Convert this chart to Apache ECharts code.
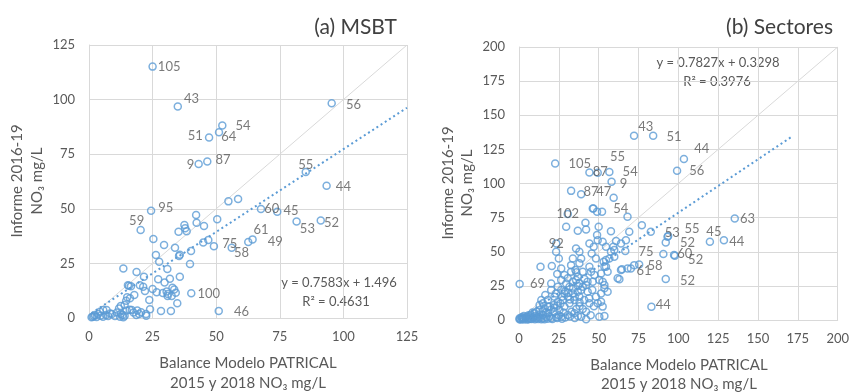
<!DOCTYPE html>
<html>
<head>
<meta charset="utf-8">
<script src="https://cdn.jsdelivr.net/npm/echarts@6/dist/echarts.min.js"></script>
<style>html,body{margin:0;padding:0;background:#fff}#c{width:852px;height:392px}</style>
</head>
<body>
<div id="c"></div>
<script>
// ---------- DATA ----------
// (a) MSBT — labelled points
const msbtLabels = ['105','43','56','54','64','51','87','9','55','44','95','59','60','45','53','52','75','58','61','49','100','46'];
const msbtLabX = [25.0,34.9,95.4,52.4,51.1,47.2,46.5,43.1,85.2,93.4,24.4,20.3,67.6,74.0,81.6,91.1,49.1,56.1,62.6,64.3,40.2,51.0];
const msbtLabY = [115.1,96.8,98.3,88.1,85.0,82.7,71.7,70.5,66.8,60.6,49.1,40.3,49.9,48.7,44.2,44.6,32.9,32.2,34.8,36.0,11.3,3.2];
// (a) MSBT — other points
const msbtX = [54.8,58.6,42.1,42.3,37.5,37.8,45.2,50.4,35.2,38.4,25.3,29.5,33.8,35.4,35.7,26.3,27.6,40.1,44.9,46.9,39.7,35.7,30.8,13.5,18.7,21.6,27.2,31.8,29.7,15.7,21.3,25.0,32.8,22.0,26.6,30.5,34.1,30.9,32.5,17.8,16.1,14.6,23.7,34.7,11.8,14.8,16.8,19.0,22.4,28.3,32.2,19.7,1.4,2.3,3.6,4.3,5.6,6.9,6.7,8.3,10.2,12.2,13.5,13.2,18.6,22.5,1.0,2.0,3.0,4.5,5.5,7.5,9.0,11.0,12.5,14.0,16.0,17.5,20.5,24.0,15.3,16.5,15.0,14.0,12.5,20.0,31.0,33.5,29.0];
const msbtY = [53.4,54.5,47.2,43.6,42.6,41.1,42.1,45.2,39.5,39.7,36.2,33.4,32.2,28.4,29.0,28.8,25.8,30.7,34.6,35.7,24.7,18.9,22.4,22.7,21.1,18.9,17.7,18.0,16.2,14.8,14.3,13.3,13.9,12.4,11.8,12.1,11.6,10.1,10.1,10.5,9.0,7.9,8.2,6.7,4.4,3.4,3.7,3.4,1.8,3.2,3.2,1.8,0.6,1.4,1.8,2.9,3.7,3.7,1.4,2.1,0.9,0.6,0.3,1.4,1.4,1.0,0.3,0.8,0.5,1.0,0.6,0.9,1.8,2.5,2.0,1.0,3.8,2.5,2.6,4.0,15.0,14.5,9.5,6.0,5.5,15.0,11.0,13.0,11.5];
const msbtTrend = {slope:0.7583, intercept:1.496, xFrom:1, xTo:125, r2:0.4631};

// (b) Sectores — labelled points
const sectLabels = ['43','51','44','56','105','87','55','54','9','87','47','102','92','69','54','63','53','55','52','45','44','60','52','75','58','61','52','44'];
const sectLabX = [72.2,84.2,103.5,99.2,22.7,44.2,49.4,56.7,58.1,39.0,59.4,30.6,23.4,0.4,52.1,135.4,93.2,93.6,92.1,119.8,128.6,97.3,97.8,66.7,75.4,72.3,92.1,83.1];
const sectLabY = [134.9,134.9,118.0,109.3,114.6,108.1,107.8,108.5,101.2,92.2,89.5,77.6,56.1,26.3,79.3,74.4,61.0,61.5,56.8,57.3,58.5,47.6,47.0,50.5,40.7,40.2,30.0,9.7];
// (b) Sectores — other points
const sectX = [13.5,20.6,23.3,25.0,29.6,36.9,41.7,42.1,46.7,49.0,57.7,68.1,35.8,37.9,39.0,37.9,35.4,32.7,30.6,26.5,24.0,24.4,20.2,16.5,14.0,12.9,18.1,22.3,28.5,31.7,33.8,36.9,40.0,44.2,45.2,47.3,46.3,42.1,39.0,37.9,34.8,31.7,28.5,25.4,22.3,18.1,15.0,11.9,8.8,5.6,2.5,0.4,0.3,4.6,7.3,9.8,12.9,16.1,19.2,21.9,24.4,27.5,30.6,33.8,36.9,40.0,43.1,41.0,44.2,42.1,39.0,42.1,34.8,30.6,26.5,23.3,20.2,17.1,50.4,53.6,48.3,51.5,49.4,52.5,55.6,53.6,50.4,51.5,54.6,53.1,56.7,59.8,64.0,67.1,59.8,64.0,63.0,68.1,45.6,48.3,46.9,44.2,49.4,52.5,54.6,49.0,33.8,32.7,28.5,26.5,35.8,18.1,15.0,23.3,26.5,29.6,20.2,69.2,82.7,77.1,90.6,64.6,61.9,60.9,59.2,57.7,54.6,53.6,55.6,52.5,53.6,51.5,70.2,32.7,46.3,50.0,1.0,2.0,3.0,4.0,6.0,7.0,8.0,9.0,10.0,11.0,12.0,13.0,14.0,15.0,16.0,18.0,19.0,21.0,24.0,25.0,27.0,28.0,29.0,32.0,33.0,35.0,36.0,37.0,38.0,10.0,6.0,3.0,2.0,1.5,5.0,7.0,8.5,11.0,13.0,15.0,17.0,20.0,22.0,24.0,26.0,27.0,29.0,31.0,32.0,34.0,35.0,37.0,38.0,36.0,41.0,43.0,44.0,46.0,47.0,45.0,40.0,38.0];
const sectY = [39.0,39.5,50.0,45.1,68.3,65.4,71.2,66.3,81.7,79.3,65.1,75.6,52.4,50.0,45.1,41.5,36.6,35.4,30.5,29.3,33.7,24.4,22.0,18.3,14.6,11.0,14.6,17.1,19.5,24.4,28.1,31.7,35.4,39.0,35.4,32.9,28.1,25.6,22.0,17.1,14.6,12.2,9.8,7.3,6.1,4.9,3.7,2.4,2.0,1.2,1.2,1.2,0.5,2.4,3.7,4.9,7.3,8.5,9.8,11.0,13.4,14.6,17.1,19.5,20.7,24.4,20.7,14.6,12.2,6.1,2.4,0.5,4.9,3.7,2.4,2.0,1.2,2.0,2.4,3.0,17.1,13.4,12.2,9.8,20.7,25.6,29.3,34.1,39.0,42.7,45.1,51.2,56.1,58.5,46.3,36.6,29.8,37.8,48.8,45.1,53.7,56.1,58.5,57.3,53.7,62.2,45.1,40.2,32.9,37.8,29.3,9.8,12.2,19.5,22.0,26.8,26.8,64.6,64.6,69.5,48.3,37.1,30.5,57.8,53.6,50.0,43.9,39.0,35.3,28.0,23.2,19.5,37.8,94.6,81.7,68.3,0.3,0.8,0.4,1.5,0.5,1.0,0.7,1.5,0.6,1.2,0.8,1.7,0.5,1.2,0.6,1.0,2.5,0.7,1.5,3.5,1.0,5.5,1.8,2.5,6.0,1.5,8.0,3.0,10.0,3.0,3.5,3.0,2.0,1.8,0.4,2.3,5.5,6.0,4.0,6.5,5.5,7.5,9.0,10.5,12.0,17.0,21.0,20.0,15.0,23.0,17.0,25.0,27.0,35.0,30.0,28.0,16.0,22.0,10.0,3.5,8.0,13.0];
const sectTrend = {slope:0.7827, intercept:0.3298, xFrom:0, xTo:172, r2:0.3976};

const ticksA = [0,25,50,75,100,125];
const ticksB = [0,25,50,75,100,125,150,175,200];

// ---------- STYLE (label placement: [position, dx, dy]) ----------
const msbtLabelPos = [
 ['right',-1,0],['right',0,-8],['right',8,1],['right',7,0],['right',-4,4],['left',0,-2],['right',2,-2],['left',2,1],
 ['top',0,5],['right',3,1],['right',1,-3],['top',-4,4],['right',-3,0],['right',0,-1],['right',-3,7],['right',-3,2],
 ['right',2,-2],['right',-4,5],['right',-1,-12],['right',9,2],['right',0,0],['right',9,1]
];
const sectLabelPos = [
 ['right',-2,-9],['right',7,1],['right',4,-10],['right',6,0],['right',7,0],['right',-3,-1],['right',6,-16],['right',7,0],
 ['right',2,2],['right',-4,-2],['left',4,-6],['inside',0,0],['inside',0,0],['right',4,0],['right',5,-3],['right',-1,0],
 ['right',-9,-4],['right',10,-7],['right',8,0],['top',4,3],['right',-1,2],['right',-3,-1],['right',7,4],['right',7,1],
 ['right',2,1],['right',-4,6],['right',8,2],['right',-2,-2]
];

const FONT = 'Lato, "Open Sans", sans-serif';
const TXT = '#595959';
const BLUE = '#5B9BD5';
const GRID = '#d9d9d9';

function labelled(xs, ys, names, pos) {
  return xs.map((x, i) => ({
    value: [x, ys[i]],
    label: { show: true, formatter: names[i], position: pos[i][0], distance: 2, offset: [pos[i][1], pos[i][2]],
             color: TXT, fontSize: 13, fontFamily: FONT }
  }));
}
function plain(xs, ys) { return xs.map((x, i) => [x, ys[i]]); }
function trendLine(t) { return [[t.xFrom, t.slope*t.xFrom + t.intercept], [t.xTo, t.slope*t.xTo + t.intercept]]; }

const pointStyle = { color: 'rgba(0,0,0,0)', borderColor: BLUE, borderWidth: 1.5 };

function axis(ticks, gridIndex) {
  return {
    type: 'value', gridIndex, min: ticks[0], max: ticks[ticks.length-1], interval: ticks[1]-ticks[0],
    axisLine: { show: true, lineStyle: { color: GRID } }, axisTick: { show: false },
    splitLine: { show: true, lineStyle: { color: GRID, width: 1 } },
    axisLabel: { color: TXT, fontSize: 13, fontFamily: FONT, margin: 12 }
  };
}
function xAxisCfg(ticks, gi) { return axis(ticks, gi); }
function yAxisCfg(ticks, gi) { const a = axis(ticks, gi); a.axisLabel.margin = 14; return a; }

function scatter(data, gi) {
  return { type: 'scatter', xAxisIndex: gi, yAxisIndex: gi, data, symbol: 'circle', symbolSize: 7, itemStyle: pointStyle, z: 3 };
}
function lineS(data, gi, style) {
  return { type: 'line', xAxisIndex: gi, yAxisIndex: gi, data, symbol: 'none', silent: true, lineStyle: style, z: 2, animation: false };
}
function txt(x, y, text, size, color, align, rot) {
  return { type: 'text', x, y, rotation: rot || 0, silent: true,
    style: { text, font: size + 'px ' + FONT, fill: color, align: align || 'center', verticalAlign: 'middle',
             textAlign: align || 'center', textVerticalAlign: 'middle', lineHeight: 19 } };
}

const chart = echarts.init(document.getElementById('c'), null, { renderer: 'canvas' });
chart.setOption({
  animation: false,
  backgroundColor: '#fff',
  grid: [
    { left: 89, top: 45, width: 318, height: 273 },
    { left: 519, top: 47, width: 320, height: 273 }
  ],
  xAxis: [xAxisCfg(ticksA, 0), xAxisCfg(ticksB, 1)],
  yAxis: [yAxisCfg(ticksA, 0), yAxisCfg(ticksB, 1)],
  series: [
    lineS([[ticksA[0], ticksA[0]], [ticksA[ticksA.length-1], ticksA[ticksA.length-1]]], 0, { color: GRID, width: 1 }),
    lineS(trendLine(msbtTrend), 0, { color: BLUE, width: 2, type: [2, 3] }),
    scatter(plain(msbtX, msbtY), 0),
    scatter(labelled(msbtLabX, msbtLabY, msbtLabels, msbtLabelPos), 0),
    lineS([[ticksB[0], ticksB[0]], [ticksB[ticksB.length-1], ticksB[ticksB.length-1]]], 1, { color: GRID, width: 1 }),
    lineS(trendLine(sectTrend), 1, { color: BLUE, width: 2, type: [2, 3] }),
    scatter(plain(sectX, sectY), 1),
    scatter(labelled(sectLabX, sectLabY, sectLabels, sectLabelPos), 1)
  ],
  graphic: [
    txt(397, 27, '(a) MSBT', 21, '#404040', 'right'),
    txt(833, 27, '(b) Sectores', 21, '#404040', 'right'),
    txt(339, 283, 'y = ' + msbtTrend.slope + 'x + ' + msbtTrend.intercept, 13, TXT),
    txt(336, 302, 'R² = ' + msbtTrend.r2, 13, TXT),
    txt(718, 63, 'y = ' + sectTrend.slope + 'x + ' + sectTrend.intercept, 13, TXT),
    txt(717, 82, 'R² = ' + sectTrend.r2, 13, TXT),
    txt(248, 363, 'Balance Modelo PATRICAL', 15, TXT),
    txt(248, 383, '2015 y 2018 NO₃ mg/L', 15, TXT),
    txt(679, 365, 'Balance Modelo PATRICAL', 15, TXT),
    txt(679, 384, '2015 y 2018 NO₃ mg/L', 15, TXT),
    txt(17, 181, 'Informe 2016-19', 15, TXT, 'center', Math.PI/2),
    txt(37, 181, 'NO₃ mg/L', 15, TXT, 'center', Math.PI/2),
    txt(448, 183, 'Informe 2016-19', 15, TXT, 'center', Math.PI/2),
    txt(467, 183, 'NO₃ mg/L', 15, TXT, 'center', Math.PI/2)
  ]
});
</script>
</body>
</html>
